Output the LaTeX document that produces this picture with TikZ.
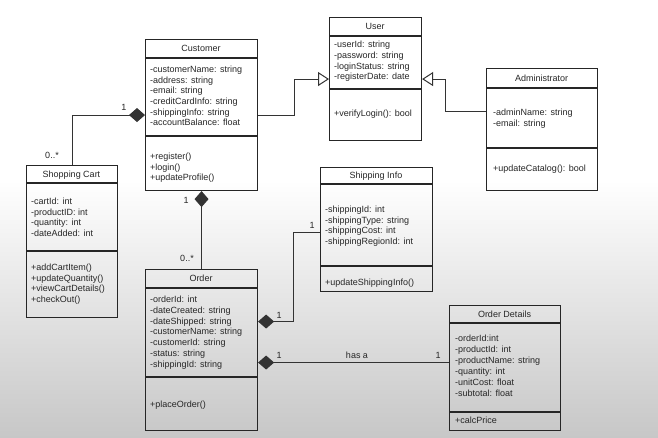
\documentclass[tikz,border=0pt]{standalone}
\usepackage{fontspec}
\setmainfont{Liberation Sans}
\usetikzlibrary{arrows.meta}
\tikzset{
  ink/.style={black!85},
  classbox/.style={draw=black!85, line width=1.1pt, rectangle, inner sep=0pt, anchor=north west},
  sepline/.style={draw=black!85, line width=1.1pt},
  txt/.style={anchor=base west, inner sep=0pt, font=\fontsize{9}{10.8}\selectfont, text=black!85},
  ttl/.style={anchor=base, inner sep=0pt, font=\fontsize{9}{10.8}\selectfont, text=black!85},
  lbl/.style={inner sep=0pt, font=\fontsize{9}{10.8}\selectfont, text=black!85},
  conn/.style={draw=black!80, line width=1pt},
  comp/.style={conn, {Diamond[length=16pt,width=14pt]}-},
  gen/.style={conn, -{Triangle[open,length=11pt,width=14pt]}},
}
% name, x1, y1, x2, y2, sep1, sep2, title
\newcommand\umlclass[8]{%
  \node[classbox, minimum width={#4-#2}, minimum height={#5-#3}] (#1) at (#2,#3) {};
  \draw[sepline] (#2,#6) -- (#4,#6);
  \draw[sepline] (#2,#7) -- (#4,#7);
  \node[ttl] (#1-t) at ({(#2+#4)/2},{(#3+#6)/2+3.3}) {#8};
}
% prefix, x, first baseline y, step, list
\newcommand\umllines[5]{%
  \foreach \lin [count=\k] in {#5}
    \node[txt] (#1\k) at (#2,{#3+(\k-1)*#4}) {\lin};
}
\begin{document}
\begin{tikzpicture}[x=1pt,y=-1pt]
\useasboundingbox (0,0) rectangle (658,438);
\fill[white] (0,0) rectangle (658,438);
\shade[top color=white, bottom color=black!22] (0,180) rectangle (658,438);

% Customer
\umlclass{cust}{145}{39}{257}{190}{58}{136}{Customer}
\umllines{cust-a}{150}{72.5}{10.7}{{-customerName: string},{-address: string},{-email: string},{-creditCardInfo: string},{-shippingInfo: string},{-accountBalance: float}}
\umllines{cust-m}{150}{159.5}{10.7}{{+register()},{+login()},{+updateProfile()}}

% User
\umlclass{user}{329}{17}{421}{140}{36}{89}{User}
\umllines{user-a}{334}{47.5}{10.8}{{-userId: string},{-password: string},{-loginStatus: string},{-registerDate: date}}
\umllines{user-m}{334}{116.5}{10.8}{{+verifyLogin(): bool}}

% Administrator
\umlclass{admin}{486}{68}{597}{190}{88}{148}{Administrator}
\umllines{admin-a}{493}{115.5}{10.6}{{-adminName: string},{-email: string}}
\umllines{admin-m}{493}{171.5}{10.6}{{+updateCatalog(): bool}}

% Shopping Cart
\umlclass{cart}{26}{165}{117}{317}{183}{251}{Shopping Cart}
\umllines{cart-a}{31}{204.5}{10.7}{{-cartId: int},{-productID: int},{-quantity: int},{-dateAdded: int}}
\umllines{cart-m}{31}{270.5}{10.7}{{+addCartItem()},{+updateQuantity()},{+viewCartDetails()},{+checkOut()}}

% Shipping Info
\umlclass{ship}{320}{167}{432}{291}{184}{266}{Shipping Info}
\umllines{ship-a}{325}{212.5}{10.7}{{-shippingId: int},{-shippingType: string},{-shippingCost: int},{-shippingRegionId: int}}
\umllines{ship-m}{325}{285.5}{10.7}{{+updateShippingInfo()}}

% Order
\umlclass{order}{145}{269}{257}{430}{288}{377}{Order}
\umllines{order-a}{150}{302.5}{10.8}{{-orderId: int},{-dateCreated: string},{-dateShipped: string},{-customerName: string},{-customerId: string},{-status: string},{-shippingId: string}}
\umllines{order-m}{150}{407.5}{10.8}{{+placeOrder()}}

% Order Details
\umlclass{det}{449}{305}{560}{430}{323}{412}{Order Details}
\umllines{det-a}{455}{341.5}{10.9}{{-orderId:int},{-productId: int},{-productName: string},{-quantity: int},{-unitCost: float},{-subtotal: float}}
\umllines{det-m}{455}{423.5}{10.9}{{+calcPrice}}

% Connectors
\draw[comp] (cust.west) -| (cart.north);
\draw[gen] (cust.east) -- ++(36,0) |- (user.west);
\draw[gen] ([yshift=18pt]admin.west) -- ++(-41,0) |- (user.east);
\draw[comp] (cust.south) -- (order.north);
\draw[comp] ([yshift=28.5pt]order.east) -- ++(35,0) |- ([yshift=-3pt]ship.west);
\draw[comp] ([yshift=-12.5pt]order.east) -- ([yshift=5.5pt]det.west);

% Multiplicities
\node[lbl] (l1) at (124,107) {1};
\node[lbl] (l2) at (52,155) {0..*};
\node[lbl] (l3) at (186,200) {1};
\node[lbl] (l4) at (187,258) {0..*};
\node[lbl] (l5) at (279,315) {1};
\node[lbl] (l6) at (312,225) {1};
\node[lbl] (l7) at (279,355) {1};
\node[lbl] (l8) at (357,355) {has a};
\node[lbl] (l9) at (438,355) {1};
\end{tikzpicture}
\end{document}
